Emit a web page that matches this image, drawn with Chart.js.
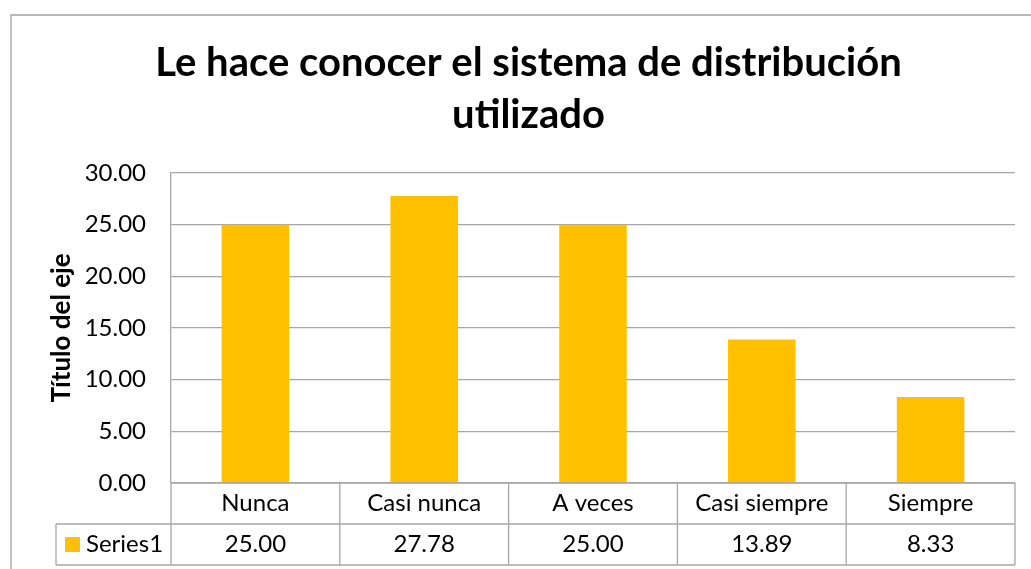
<!DOCTYPE html>
<html>
<head>
<meta charset="utf-8">
<script src="https://cdn.jsdelivr.net/npm/chart.js@4"></script>
<style>
  html, body { margin: 0; padding: 0; background: #fff; }
  #wrap { width: 1031px; height: 569px; position: relative; }
</style>
</head>
<body>
<div id="wrap"><canvas id="chart"></canvas></div>
<script>
const categories = ['Nunca', 'Casi nunca', 'A veces', 'Casi siempre', 'Siempre'];
const series1 = [25.00, 27.78, 25.00, 13.89, 8.33];
const seriesName = 'Series1';
const titleLines = ['Le hace conocer el sistema de distribución', 'utilizado'];
const yTitle = 'Título del eje';

const FONT = "Lato, Carlito, Calibri, sans-serif";
const barColor = '#FFC000';
const lineColor = '#a6a6a6';

// outer chart border (cut by the window on the right and bottom)
const frame = {
    id: 'frame',
    beforeDraw: (chart) => {
        const ctx = chart.ctx;
        ctx.save();
        ctx.fillStyle = '#fff';
        ctx.fillRect(0, 0, chart.width, chart.height);
        ctx.strokeStyle = '#a0a0a0';
        ctx.lineWidth = 1.3;
        ctx.beginPath();
        ctx.moveTo(11, chart.height + 5);
        ctx.lineTo(11, 15);
        ctx.lineTo(chart.width + 5, 15);
        ctx.stroke();
        ctx.restore();
    }
};

// data table below the plot
const dataTable = {
    id: 'dataTable',
    afterDraw: (chart) => {
        const ctx = chart.ctx;
        const xs = chart.scales.x;
        const area = chart.chartArea;
        const n = categories.length;
        const step = xs.width / n;
        const y0 = area.bottom;
        const y1 = y0 + 41;
        const y2 = y1 + 41;
        const legendLeft = 56;
        ctx.save();
        ctx.strokeStyle = lineColor;
        ctx.lineWidth = 1.3;
        ctx.beginPath();
        for (let i = 0; i <= n; i++) {
            const x = xs.left + i * step;
            ctx.moveTo(x, y0);
            ctx.lineTo(x, y2);
        }
        ctx.moveTo(xs.left, y0);
        ctx.lineTo(xs.right, y0);
        ctx.moveTo(legendLeft, y1);
        ctx.lineTo(xs.right, y1);
        ctx.moveTo(legendLeft, y2);
        ctx.lineTo(xs.right, y2);
        ctx.moveTo(legendLeft, y1);
        ctx.lineTo(legendLeft, y2);
        ctx.stroke();

        ctx.fillStyle = '#000';
        ctx.font = '24px ' + FONT;
        ctx.textAlign = 'center';
        ctx.textBaseline = 'middle';
        categories.forEach((c, i) => {
            const cx = xs.getPixelForValue(i);
            ctx.fillText(c, cx, (y0 + y1) / 2);
            ctx.fillText(series1[i].toFixed(2), cx, (y1 + y2) / 2);
        });
        ctx.fillStyle = barColor;
        ctx.fillRect(legendLeft + 9, (y1 + y2) / 2 - 7.5, 15, 15);
        ctx.fillStyle = '#000';
        ctx.textAlign = 'left';
        ctx.fillText(seriesName, legendLeft + 30, (y1 + y2) / 2);
        ctx.restore();
    }
};

new Chart(document.getElementById('chart'), {
    type: 'bar',
    data: {
        labels: categories,
        datasets: [{
            label: seriesName,
            data: series1,
            backgroundColor: barColor,
            borderWidth: 0,
            barPercentage: 0.4,
            categoryPercentage: 1.0
        }]
    },
    options: {
        responsive: true,
        maintainAspectRatio: false,
        animation: false,
        layout: { padding: { top: 0, right: 0, bottom: 0, left: 26 } },
        plugins: {
            legend: { display: false },
            tooltip: { enabled: false },
            title: {
                display: true,
                text: titleLines,
                color: '#000',
                font: { family: FONT, size: 40, weight: 'bold', lineHeight: 1.3 },
                padding: { top: 37, bottom: 32 }
            }
        },
        scales: {
            x: {
                grid: { display: false, drawTicks: false },
                border: { display: false },
                ticks: { display: false },
                afterFit: (scale) => { scale.height = 86; }
            },
            y: {
                min: 0,
                max: 30,
                ticks: {
                    stepSize: 5,
                    padding: 25,
                    color: '#000',
                    font: { family: FONT, size: 24 },
                    callback: (v) => v.toFixed(2)
                },
                grid: { color: lineColor, lineWidth: 1.3, drawTicks: false },
                border: { display: true, color: lineColor, width: 1.3 },
                title: {
                    display: true,
                    text: yTitle,
                    color: '#000',
                    font: { family: FONT, size: 26, weight: 'bold' },
                    padding: { top: 20, bottom: 0 }
                },
                afterFit: (scale) => { scale.width = 145; }
            },
            // empty right-hand strip so the plot stops short of the window edge
            yRight: {
                position: 'right',
                display: true,
                grid: { display: false, drawTicks: false },
                border: { display: false },
                ticks: { display: false },
                afterFit: (scale) => { scale.width = 16; }
            }
        }
    },
    plugins: [frame, dataTable]
});
</script>
</body>
</html>
